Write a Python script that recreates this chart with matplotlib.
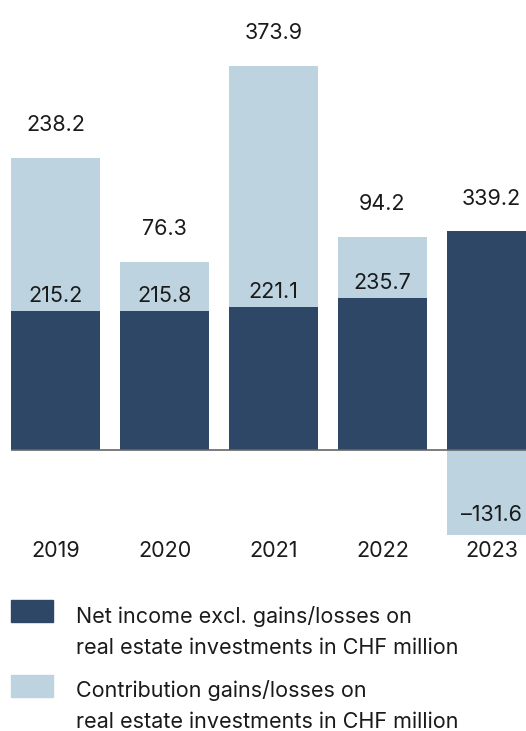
import matplotlib
matplotlib.use("Agg")
import matplotlib.pyplot as plt
from matplotlib.patches import Rectangle

years = ["2019", "2020", "2021", "2022", "2023"]
net_income = [215.2, 215.8, 221.1, 235.7, 339.2]
contribution = [238.2, 76.3, 373.9, 94.2, -131.6]

legend_labels = [
    "Net income excl. gains/losses on\nreal estate investments in CHF million",
    "Contribution gains/losses on\nreal estate investments in CHF million",
]

DARK = "#2e4766"
LIGHT = "#bdd3e0"
TEXT = "#1a1a1a"
FONT = ["Inter", "DejaVu Sans"]
FS = 15.5

W, H, DPI = 526, 731, 100
fig = plt.figure(figsize=(W / DPI, H / DPI), dpi=DPI)
ax = fig.add_axes([0, 0, 1, 1])
ax.set_axis_off()

# horizontal: bar pitch 109 px, first centre at 55.5 px
pitch, first_c = 109.0, 55.5
ax.set_xlim(-first_c / pitch, (W - first_c) / pitch)
# vertical: zero line at 450 px from the top, 0.645 px per CHF million
scale, zero_px = 0.645, 450.0
ax.set_ylim(-(H - zero_px) / scale, zero_px / scale)

width = 89 / pitch
xs = list(range(len(years)))

for i, (n, c) in enumerate(zip(net_income, contribution)):
    ax.bar(i, n, width=width, color=DARK, zorder=2)
    if c >= 0:
        ax.bar(i, c, bottom=n, width=width, color=LIGHT, zorder=2)
    else:
        ax.bar(i, c, bottom=0, width=width, color=LIGHT, zorder=2)

# zero line
ax.plot([xs[0] - width / 2, ax.get_xlim()[1]], [0, 0], color="#666666", lw=1.2,
        zorder=3, solid_capstyle="butt")

kw = dict(ha="center", va="center", fontsize=FS, family=FONT, color=TEXT,
          textcoords="offset pixels", zorder=4)
for i, (n, c) in enumerate(zip(net_income, contribution)):
    if c >= 0:
        ax.annotate(f"{c:.1f}", (i, n + c), xytext=(0, 33), **kw)
        ax.annotate(f"{n:.1f}", (i, n), xytext=(0, 15), **kw)
    else:
        ax.annotate(f"{n:.1f}", (i, n), xytext=(0, 32), **kw)
        ax.annotate(f"\u2013{abs(c):.1f}", (i, c), xytext=(0, 20), **kw)

# year labels
for i, y in enumerate(years):
    ax.annotate(y, (i, 0), xytext=(0, -101), **kw)

# legend
def px(x, y):
    return x / W, 1 - y / H

for (top, color), label, ty in zip([(600, DARK), (675, LIGHT)], legend_labels, [606, 680]):
    x0, y0 = px(11, top + 22)
    fig.patches.append(Rectangle((x0, y0), 42 / W, 22 / H, transform=fig.transFigure,
                                 color=color, zorder=2))
    tx, tyf = px(76, ty)
    fig.text(tx, tyf, label, ha="left", va="top", fontsize=FS, family=FONT,
             color=TEXT, linespacing=1.66)

fig.savefig("out.png", dpi=DPI)
